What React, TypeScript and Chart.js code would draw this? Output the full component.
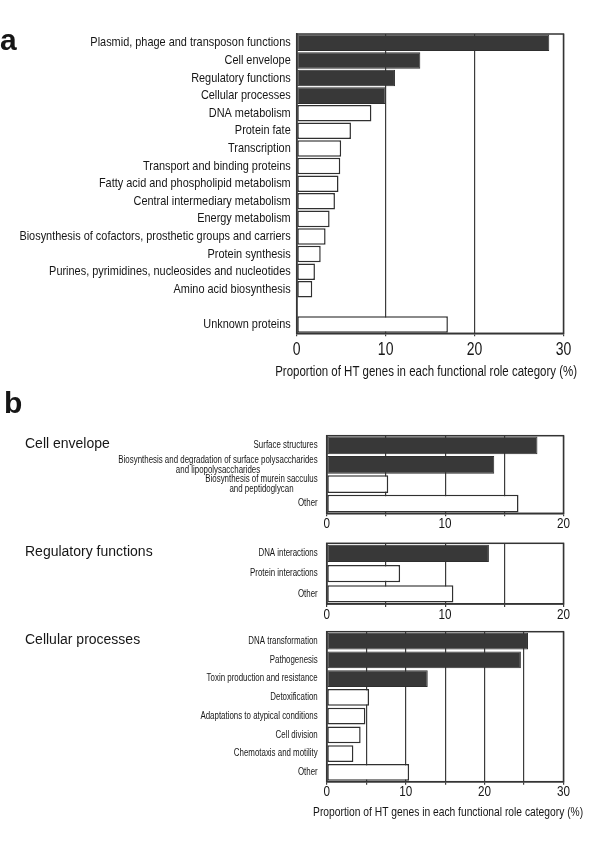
import React, { useEffect, useRef } from "react";
import { Chart, registerables } from "chart.js";

Chart.register(...registerables);

type Label = string | string[];

// ---------- DATA ----------
const aCategories: Label[] = [
  "Plasmid, phage and transposon functions",
  "Cell envelope",
  "Regulatory functions",
  "Cellular processes",
  "DNA metabolism",
  "Protein fate",
  "Transcription",
  "Transport and binding proteins",
  "Fatty acid and phospholipid metabolism",
  "Central intermediary metabolism",
  "Energy metabolism",
  "Biosynthesis of cofactors, prosthetic groups and carriers",
  "Protein synthesis",
  "Purines, pyrimidines, nucleosides and nucleotides",
  "Amino acid biosynthesis",
  "",
  "Unknown proteins",
];
const aValues: (number | null)[] = [
  28.4, 13.9, 11.05, 10.0, 8.4, 6.1, 5.0, 4.9, 4.7, 4.3, 3.7, 3.25, 2.7, 2.05, 1.75, null, 17.0,
];
const aHighlighted = 4;

const envCategories: Label[] = [
  "Surface structures",
  ["Biosynthesis and degradation of surface polysaccharides", "and lipopolysaccharides"],
  ["Biosynthesis of murein sacculus", "and peptidoglycan"],
  "Other",
];
const envValues: number[] = [17.8, 14.15, 5.2, 16.2];
const envHighlighted = 2;

const regCategories: Label[] = ["DNA interactions", "Protein interactions", "Other"];
const regValues: number[] = [13.7, 6.2, 10.7];
const regHighlighted = 1;

const cellCategories: Label[] = [
  "DNA transformation",
  "Pathogenesis",
  "Toxin production and resistance",
  "Detoxification",
  "Adaptations to atypical conditions",
  "Cell division",
  "Chemotaxis and motility",
  "Other",
];
const cellValues: number[] = [25.5, 24.6, 12.8, 5.37, 4.9, 4.3, 3.38, 10.44];
const cellHighlighted = 3;

const labelledTickStep = 10;
const xTitle = "Proportion of HT genes in each functional role category (%)";

// ---------- STYLE ----------
const SANS = "'Liberation Sans', Arial, Helvetica, sans-serif";
const TEXT = "#161616";
const DARK = "#383838";
const LINE = "#343434";
const GRID = "#3c3c3c";

interface PanelSpec {
  labels: Label[];
  values: (number | null)[];
  dark: number;
  max: number;
  step: number;
  canvasTop: number;
  canvasHeight: number;
  plot: { left: number; right: number; top: number; bottom: number };
  tickFont: number;
  tickScale: number;
  tickOffset: number;
  labelFont: number;
  labelScale: number;
  labelLine: number;
  labelGap: number;
  barPct: number;
  title?: string;
  titleFont?: number;
  titleScale?: number;
  titleCenter?: number;
  titleDx?: number;
}

const panels: PanelSpec[] = [
  {
    labels: aCategories, values: aValues, dark: aHighlighted, max: 30, step: 10,
    canvasTop: 0, canvasHeight: 385,
    plot: { left: 296.7, right: 563.5, top: 34, bottom: 333.3 },
    tickFont: 17.5, tickScale: 0.8, tickOffset: 16.7,
    labelFont: 13, labelScale: 0.84, labelLine: 14, labelGap: 6, barPct: 0.94,
    title: xTitle, titleFont: 14, titleScale: 0.82, titleCenter: 371.7, titleDx: -4,
  },
  {
    labels: envCategories, values: envValues, dark: envHighlighted, max: 20, step: 5,
    canvasTop: 425, canvasHeight: 110,
    plot: { left: 326.7, right: 563.5, top: 435.7, bottom: 513.3 },
    tickFont: 15, tickScale: 0.78, tickOffset: 11,
    labelFont: 10, labelScale: 0.79, labelLine: 10, labelGap: 9, barPct: 0.92,
  },
  {
    labels: regCategories, values: regValues, dark: regHighlighted, max: 20, step: 5,
    canvasTop: 535, canvasHeight: 90,
    plot: { left: 326.7, right: 563.5, top: 543.3, bottom: 604 },
    tickFont: 15, tickScale: 0.78, tickOffset: 10.6,
    labelFont: 10, labelScale: 0.79, labelLine: 10, labelGap: 9, barPct: 0.85,
  },
  {
    labels: cellCategories, values: cellValues, dark: cellHighlighted, max: 30, step: 5,
    canvasTop: 625, canvasHeight: 200,
    plot: { left: 326.7, right: 563.5, top: 631.7, bottom: 781.7 },
    tickFont: 15, tickScale: 0.78, tickOffset: 10.2,
    labelFont: 10, labelScale: 0.79, labelLine: 10, labelGap: 9, barPct: 0.9,
    title: xTitle, titleFont: 13, titleScale: 0.79, titleCenter: 812.3, titleDx: 3,
  },
];

// draw text horizontally condensed (mimics a narrow Helvetica)
function drawScaled(
  ctx: CanvasRenderingContext2D,
  text: string,
  x: number,
  y: number,
  align: CanvasTextAlign,
  sx: number
) {
  ctx.save();
  ctx.translate(x, y);
  ctx.scale(sx, 1);
  ctx.textAlign = align;
  ctx.fillText(text, 0, 0);
  ctx.restore();
}

function BarPanel({ spec }: { spec: PanelSpec }) {
  const ref = useRef<HTMLCanvasElement>(null);

  useEffect(() => {
    const s = spec;
    const W = 600;
    const topPad = s.plot.top - s.canvasTop;
    const plotBottomLocal = s.plot.bottom - s.canvasTop;
    const xHeight = s.title
      ? s.titleCenter! - s.plot.bottom + (s.titleFont || 13) * 0.6 + 1
      : s.tickOffset + s.tickFont / 2 + 2;
    const bottomPad = Math.max(0, s.canvasHeight - plotBottomLocal - xHeight);

    const textPlugin = {
      id: "panelText",
      afterDraw(chart: any) {
        const ctx = chart.ctx as CanvasRenderingContext2D;
        const { left, right, bottom } = chart.chartArea;
        const yScale = chart.scales.y;
        const xScale = chart.scales.x;
        ctx.save();
        ctx.fillStyle = TEXT;
        ctx.textBaseline = "middle";

        // category labels (multi-line blocks centred, block right-aligned)
        ctx.font = `${s.labelFont}px ${SANS}`;
        const rightEdge = left - s.labelGap;
        (chart.data.labels as Label[]).forEach((lab, i) => {
          const lines = Array.isArray(lab) ? lab : [lab];
          if (!lines.join("")) return;
          const w = Math.max(...lines.map((l) => ctx.measureText(l).width)) * s.labelScale;
          const cx = rightEdge - w / 2;
          const cy = yScale.getPixelForValue(i);
          lines.forEach((l, k) =>
            drawScaled(ctx, l, cx, cy + (k - (lines.length - 1) / 2) * s.labelLine, "center", s.labelScale)
          );
        });

        // value-axis tick labels from the scale's own ticks
        ctx.font = `${s.tickFont}px ${SANS}`;
        xScale.ticks.forEach((t: any) => {
          if (t.value % labelledTickStep !== 0) return;
          drawScaled(ctx, String(t.value), xScale.getPixelForValue(t.value), bottom + s.tickOffset, "center", s.tickScale);
        });

        // axis title
        if (s.title) {
          ctx.font = `${s.titleFont}px ${SANS}`;
          drawScaled(
            ctx,
            s.title,
            (left + right) / 2 + (s.titleDx || 0),
            s.titleCenter! - s.canvasTop,
            "center",
            s.titleScale || 0.8
          );
        }
        ctx.restore();
      },
    };

    const framePlugin = {
      id: "frame",
      afterDatasetsDraw(chart: any) {
        const { left, top, right, bottom } = chart.chartArea;
        const ctx = chart.ctx as CanvasRenderingContext2D;
        ctx.save();
        ctx.strokeStyle = LINE;
        ctx.lineWidth = 1.5;
        ctx.strokeRect(left, top, right - left, bottom - top);
        ctx.restore();
      },
    };

    const chart = new Chart(ref.current!, {
      type: "bar",
      data: {
        labels: s.labels as any,
        datasets: [
          {
            data: s.values as any,
            backgroundColor: s.values.map((_, i) => (i < s.dark ? DARK : "#ffffff")),
            borderColor: s.values.map((_, i) => (i < s.dark ? "#2e2e2e" : "#303030")),
            borderWidth: s.values.map((_, i) => (i < s.dark ? 1 : 1.5)),
            borderSkipped: false,
            barPercentage: s.barPct,
            categoryPercentage: 1,
          },
        ],
      },
      options: {
        indexAxis: "y",
        responsive: false,
        animation: false,
        devicePixelRatio: 1,
        layout: {
          padding: { left: 0, right: W - s.plot.right, top: topPad, bottom: bottomPad },
        },
        plugins: {
          legend: { display: false },
          tooltip: { enabled: false },
          title: { display: false },
        },
        scales: {
          x: {
            type: "linear",
            position: "bottom",
            min: 0,
            max: s.max,
            ticks: { stepSize: s.step, autoSkip: false, display: false },
            grid: { color: GRID, lineWidth: 1.2, tickLength: 3, drawTicks: true },
            border: { display: true, color: LINE, width: 1.5 },
            afterFit: (sc: any) => {
              sc.height = xHeight;
            },
          },
          y: {
            type: "category",
            ticks: { display: false },
            grid: { display: false },
            border: { display: true, color: LINE, width: 1.5 },
            afterFit: (sc: any) => {
              sc.width = s.plot.left;
            },
          },
        },
      } as any,
      plugins: [textPlugin, framePlugin],
    });
    return () => chart.destroy();
  }, [spec]);

  return (
    <canvas
      ref={ref}
      width={600}
      height={spec.canvasHeight}
      style={{
        position: "absolute",
        left: 0,
        top: spec.canvasTop,
        width: 600,
        height: spec.canvasHeight,
      }}
    />
  );
}

const textBase: React.CSSProperties = {
  position: "absolute",
  fontFamily: SANS,
  color: TEXT,
  whiteSpace: "nowrap",
  lineHeight: 1,
};

export default function App() {
  return (
    <div
      style={{
        position: "absolute",
        left: 0,
        top: 0,
        width: 600,
        height: 852,
        background: "#ffffff",
        overflow: "hidden",
      }}
    >
      {panels.map((p, i) => (
        <BarPanel key={i} spec={p} />
      ))}
      <div style={{ ...textBase, left: 0, top: 24.6, fontSize: 30, fontWeight: 700 }}>a</div>
      <div style={{ ...textBase, left: 4, top: 387.6, fontSize: 30, fontWeight: 700 }}>b</div>
      <div style={{ ...textBase, left: 25, top: 435.5, fontSize: 14 }}>Cell envelope</div>
      <div style={{ ...textBase, left: 25, top: 543.9, fontSize: 14 }}>Regulatory functions</div>
      <div style={{ ...textBase, left: 25, top: 631.7, fontSize: 14 }}>Cellular processes</div>
    </div>
  );
}
